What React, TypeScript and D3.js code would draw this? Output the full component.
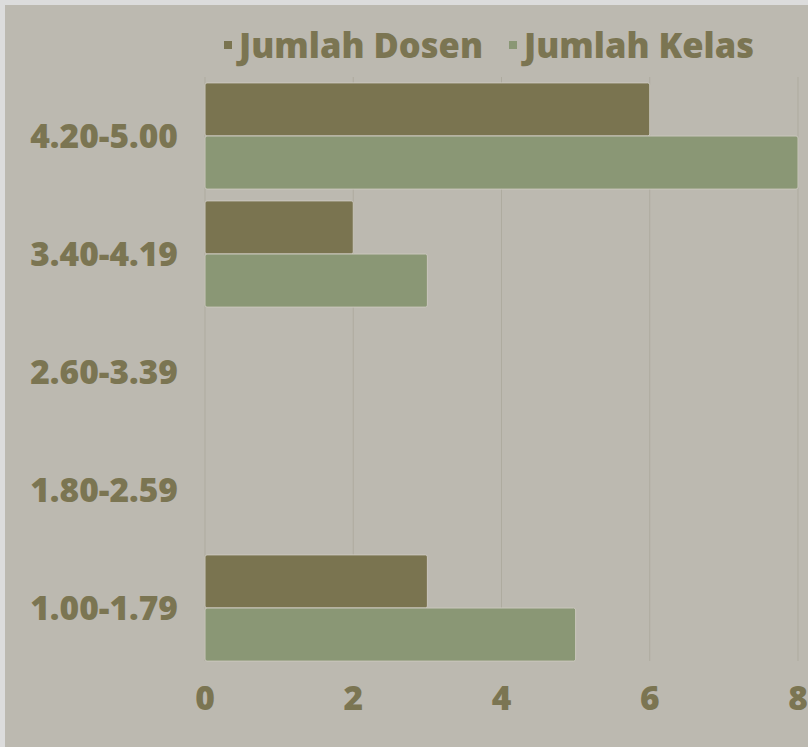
import React from "react";
import * as d3 from "d3";

const width = 808;
const height = 747;
const margin = { top: 77, right: 10, bottom: 80, left: 205 };

const categories = ["4.20-5.00", "3.40-4.19", "2.60-3.39", "1.80-2.59", "1.00-1.79"];
const jumlahDosen = [6, 2, 0, 0, 3];
const jumlahKelas = [8, 3, 0, 0, 5];
const xTicks = [0, 2, 4, 6, 8];
const seriesNames = ["Jumlah Dosen", "Jumlah Kelas"];

const colors = ["#7a7450", "#8a9775"];
const textColor = "#7b7552";
const font = "'Open Sans', sans-serif";
const fontSize = 33.5;

export default function App() {
  const xScale = d3.scaleLinear().domain([0, 8]).range([205, 798]);
  const yScale = d3
    .scaleBand()
    .domain(categories)
    .range([margin.top, 667])
    .paddingInner(0.1)
    .paddingOuter(0.05);
  const sub = d3.scaleBand().domain(seriesNames).range([0, yScale.bandwidth()]);

  const series = [jumlahDosen, jumlahKelas];

  return (
    <svg
      width={width}
      height={height}
      style={{ position: "absolute", left: 0, top: 0 }}
    >
      <rect x={0} y={0} width={width} height={height} fill="#dcdcdc" />
      <rect x={5} y={5} width={width - 5} height={height - 5} fill="#bcb9b0" />

      {/* gridlines */}
      {xTicks.map((t) => (
        <line
          key={t}
          x1={xScale(t)}
          x2={xScale(t)}
          y1={margin.top}
          y2={661}
          stroke="#aeab9f"
          strokeWidth={1}
        />
      ))}

      {/* bars */}
      {categories.map((c, i) =>
        series.map((s, j) =>
          s[i] > 0 ? (
            <rect
              key={c + j}
              x={xScale(0)}
              y={(yScale(c) as number) + (sub(seriesNames[j]) as number)}
              width={xScale(s[i]) - xScale(0)}
              height={sub.bandwidth()}
              rx={2}
              fill={colors[j]}
              stroke="#cac7bd"
              strokeWidth={1}
            />
          ) : null
        )
      )}

      {/* y labels */}
      {categories.map((c) => (
        <text
          key={c}
          x={178}
          y={(yScale(c) as number) + yScale.bandwidth() / 2}
          dy="0.36em"
          textAnchor="end"
          fontFamily={font}
          fontWeight={800}
          fontSize={fontSize}
          fill={textColor}
        >
          {c}
        </text>
      ))}

      {/* x labels */}
      {xTicks.map((t) => (
        <text
          key={t}
          x={xScale(t)}
          y={710}
          textAnchor="middle"
          fontFamily={font}
          fontWeight={800}
          fontSize={fontSize}
          fill={textColor}
        >
          {t}
        </text>
      ))}

      {/* legend */}
      {seriesNames.map((n, j) => {
        const lx = j === 0 ? 224 : 509;
        return (
          <g key={n}>
            <rect x={lx} y={41} width={8} height={8} fill={colors[j]} />
            <text
              x={lx + 15}
              y={58}
              fontFamily={font}
              fontWeight={800}
              fontSize={34.5}
              fill={textColor}
            >
              {n}
            </text>
          </g>
        );
      })}
    </svg>
  );
}
